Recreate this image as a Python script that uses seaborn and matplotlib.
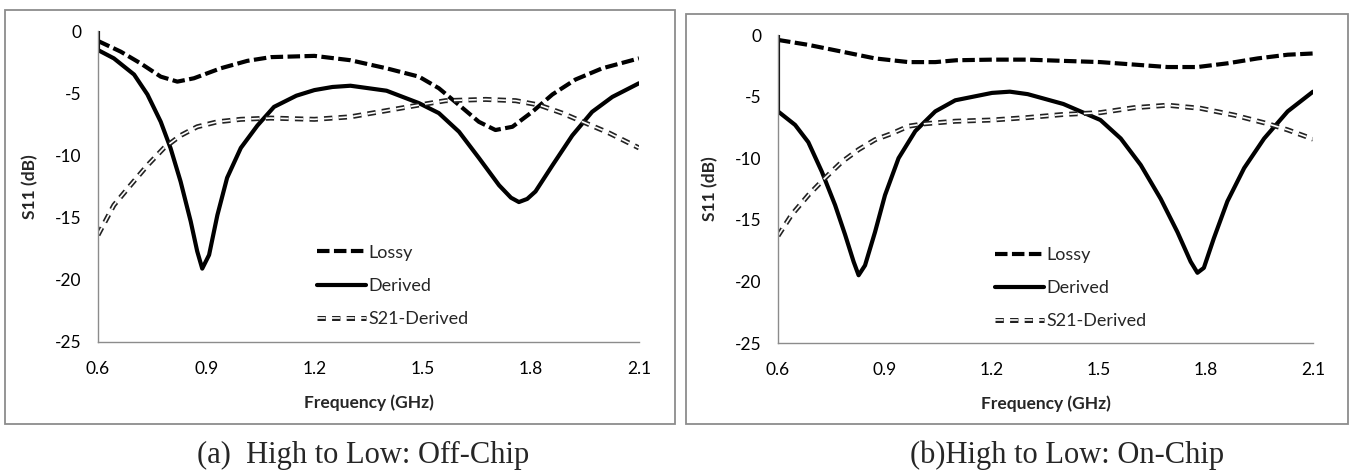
import matplotlib
matplotlib.use("Agg")
import matplotlib.pyplot as plt
import matplotlib.patheffects as pe
from matplotlib.patches import Rectangle
import seaborn as sns

sns.set_theme(style="white")
plt.rcParams['font.family'] = ['Lato', 'DejaVu Sans']
plt.rcParams['lines.scale_dashes'] = False

# (a) High to Low: Off-Chip
freq_a_lossy = [0.6, 0.663, 0.718, 0.774, 0.82, 0.866, 0.94, 1.014, 1.079, 1.2, 1.3, 1.4, 1.49, 1.545,
                1.601, 1.656, 1.702, 1.749, 1.804, 1.86, 1.924, 1.998, 2.1]
lossy_a = [-0.8, -1.66, -2.6, -3.67, -4.07, -3.8, -3.0, -2.4, -2.1, -2.0, -2.35, -3.0, -3.67, -4.6,
           -5.95, -7.3, -7.96, -7.7, -6.5, -5.1, -3.9, -3.0, -2.2]
freq_a_der = [0.6, 0.6, 0.644, 0.70, 0.737, 0.774, 0.801, 0.829, 0.857, 0.875, 0.889, 0.908, 0.931, 0.958,
              0.996, 1.042, 1.088, 1.15, 1.2, 1.25, 1.3, 1.4, 1.49, 1.545, 1.601, 1.656, 1.712, 1.745,
              1.767, 1.79, 1.813, 1.86, 1.915, 1.97, 2.026, 2.1]
derived_a = [0.0, -1.53, -2.2, -3.5, -5.1, -7.3, -9.4, -12.1, -15.3, -17.7, -19.1, -18.0, -14.8, -11.8,
             -9.4, -7.6, -6.1, -5.2, -4.75, -4.5, -4.4, -4.8, -5.8, -6.6, -8.1, -10.2, -12.4, -13.4,
             -13.75, -13.5, -12.9, -10.8, -8.4, -6.5, -5.3, -4.2]
freq_a_s21 = [0.6, 0.644, 0.69, 0.737, 0.783, 0.829, 0.875, 0.931, 0.996, 1.079, 1.2, 1.3, 1.4, 1.49,
              1.564, 1.675, 1.758, 1.823, 1.887, 1.952, 2.017, 2.1]
s21_a = [-16.4, -14.0, -12.4, -10.8, -9.4, -8.4, -7.7, -7.3, -7.1, -7.0, -7.1, -6.9, -6.4, -5.95,
         -5.6, -5.5, -5.6, -5.95, -6.6, -7.4, -8.2, -9.4]

# (b) High to Low: On-Chip
freq_b_lossy = [0.6, 0.685, 0.779, 0.872, 0.966, 1.041, 1.1, 1.2, 1.3, 1.4, 1.504, 1.598, 1.692, 1.776,
                1.86, 1.945, 2.029, 2.1]
lossy_b = [-0.4, -0.8, -1.35, -1.9, -2.2, -2.2, -2.05, -2.0, -2.0, -2.1, -2.2, -2.4, -2.6, -2.6,
           -2.3, -1.9, -1.6, -1.5]
freq_b_der = [0.6, 0.6, 0.648, 0.685, 0.723, 0.76, 0.788, 0.812, 0.826, 0.844, 0.872, 0.9, 0.938, 0.985,
              1.041, 1.097, 1.2, 1.25, 1.3, 1.4, 1.504, 1.561, 1.617, 1.673, 1.72, 1.757, 1.776, 1.794,
              1.822, 1.86, 1.907, 1.963, 2.029, 2.1]
derived_b = [0.0, -6.2, -7.3, -8.7, -11.1, -13.8, -16.2, -18.4, -19.5, -18.7, -16.0, -13.0, -10.0, -7.8,
             -6.2, -5.3, -4.7, -4.6, -4.8, -5.6, -6.9, -8.4, -10.55, -13.3, -16.0, -18.4, -19.3, -18.9,
             -16.5, -13.5, -10.8, -8.4, -6.2, -4.6]
freq_b_s21 = [0.6, 0.638, 0.685, 0.732, 0.779, 0.826, 0.872, 0.919, 0.966, 1.013, 1.097, 1.2, 1.3, 1.4,
              1.504, 1.598, 1.692, 1.785, 1.879, 1.973, 2.029, 2.1]
s21_b = [-16.3, -14.6, -13.0, -11.6, -10.3, -9.3, -8.5, -8.0, -7.4, -7.2, -7.0, -6.9, -6.7, -6.45,
         -6.3, -5.9, -5.7, -5.95, -6.5, -7.2, -7.7, -8.45]

x_ticks = [0.6, 0.9, 1.2, 1.5, 1.8, 2.1]
y_ticks = [0, -5, -10, -15, -20, -25]
captions = ["(a)  High to Low: Off-Chip", "(b)High to Low: On-Chip"]

fig = plt.figure(figsize=(13.53, 4.71), dpi=100)
W, H = 1353, 471

# grey frames around each panel
for (x0, x1, y0, y1) in [(5, 675, 10, 424), (686, 1348, 14, 424)]:
    fig.patches.append(Rectangle((x0 / W, 1 - y1 / H), (x1 - x0) / W, (y1 - y0) / H,
                                 transform=fig.transFigure, fill=False,
                                 edgecolor='#8c8c8c', linewidth=1.3))

ax_a = fig.add_axes([98 / W, 1 - 342 / H, (639 - 98) / W, (342 - 31) / H])
ax_b = fig.add_axes([778 / W, 1 - 343 / H, (1313 - 778) / W, (343 - 35) / H])

panels = [
    (ax_a, freq_a_lossy, lossy_a, freq_a_der, derived_a, freq_a_s21, s21_a),
    (ax_b, freq_b_lossy, lossy_b, freq_b_der, derived_b, freq_b_s21, s21_b),
]

for ax, fl, yl, fd, yd, fs, ys in panels:
    sns.lineplot(x=fl, y=yl, ax=ax, estimator=None, sort=False, color='black',
                 linewidth=3.0, label='Lossy')
    ax.lines[-1].set_dashes([9, 3.2])
    ax.lines[-1].set_solid_joinstyle('round')
    sns.lineplot(x=fd, y=yd, ax=ax, estimator=None, sort=False, color='black',
                 linewidth=3.0, label='Derived')
    ax.lines[-1].set_solid_joinstyle('round')
    sns.lineplot(x=fs, y=ys, ax=ax, estimator=None, sort=False, color='white',
                 linewidth=1.2, label='S21-Derived')
    s21_line = ax.lines[-1]
    s21_line.set_dashes([6, 4.5])
    s21_line.set_path_effects([pe.Stroke(linewidth=3.6, foreground='#222222'), pe.Normal()])

    ax.set_xlim(0.6, 2.1)
    ax.set_ylim(-25, 0)
    ax.set_xticks(x_ticks)
    ax.set_xticklabels([f"{t:.1f}" for t in x_ticks])
    ax.set_yticks(y_ticks)
    ax.set_yticklabels([str(t) for t in y_ticks])
    for side in ['top', 'right']:
        ax.spines[side].set_visible(False)
    for side in ['left', 'bottom']:
        ax.spines[side].set_color('#8c8c8c')
        ax.spines[side].set_linewidth(1.0)
    ax.tick_params(axis='x', which='major', direction='out', length=4, width=1,
                   color='#8c8c8c', labelsize=12.5, labelcolor='black', pad=10)
    ax.tick_params(axis='y', which='major', direction='out', length=4, width=1,
                   color='#8c8c8c', labelsize=12.5, labelcolor='black', pad=8)
    ax.set_xlabel('Frequency (GHz)', fontsize=12.5, fontweight='bold', labelpad=12)
    ax.set_ylabel('S11 (dB)', fontsize=12.5, fontweight='bold', labelpad=12)
    ax.set_facecolor('none')
    ax.legend(loc='upper left', bbox_to_anchor=(0.375, 0.365), frameon=False,
              fontsize=13, handlelength=2.7, handletextpad=0.15, labelspacing=0.95)

fig.text(197 / W, 1 - 455 / H, captions[0], ha='left', va='center',
         fontsize=22, family=['Liberation Serif', 'DejaVu Serif'])
fig.text(910 / W, 1 - 455 / H, captions[1], ha='left', va='center',
         fontsize=22, family=['Liberation Serif', 'DejaVu Serif'])

fig.savefig('out.png', dpi=100)
